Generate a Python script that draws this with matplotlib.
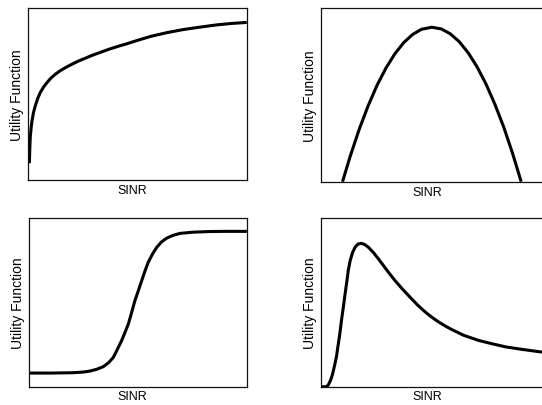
import matplotlib.pyplot as plt

# curve samples (axes run 0..1 on both sides)
log_x = [0.005, 0.007, 0.009, 0.013, 0.017, 0.024, 0.032, 0.043, 0.055, 0.07, 0.086, 0.104, 0.124,
         0.146, 0.17, 0.2, 0.231, 0.262, 0.292, 0.329, 0.368, 0.41, 0.45, 0.5, 0.56, 0.635, 0.711,
         0.788, 0.864, 0.93, 1.0]
log_y = [0.10, 0.19, 0.25, 0.305, 0.346, 0.395, 0.432, 0.475, 0.51, 0.542, 0.568, 0.594, 0.616,
         0.636, 0.654, 0.674, 0.693, 0.709, 0.725, 0.742, 0.76, 0.777, 0.792, 0.812, 0.835, 0.857,
         0.875, 0.889, 0.902, 0.91, 0.916]

para_x = [0.095, 0.13, 0.17, 0.21, 0.25, 0.29, 0.33, 0.37, 0.41, 0.45, 0.497,
          0.54, 0.58, 0.62, 0.66, 0.70, 0.74, 0.78, 0.82, 0.86, 0.899]
para_y = [0.0, 0.148, 0.301, 0.436, 0.554, 0.653, 0.735, 0.800, 0.847, 0.877, 0.889,
          0.879, 0.851, 0.806, 0.743, 0.662, 0.564, 0.448, 0.316, 0.164, 0.0]

sig_x = [0.0, 0.1, 0.2, 0.25, 0.28, 0.31, 0.341, 0.365, 0.387, 0.405, 0.425, 0.44, 0.456, 0.471,
         0.486, 0.502, 0.517, 0.532, 0.547, 0.566, 0.586, 0.608, 0.632, 0.66, 0.693, 0.75, 0.83,
         0.9, 1.0]
sig_y = [0.081, 0.081, 0.083, 0.087, 0.093, 0.103, 0.119, 0.142, 0.174, 0.22, 0.273, 0.32, 0.372,
         0.44, 0.51, 0.57, 0.628, 0.685, 0.737, 0.785, 0.826, 0.858, 0.881, 0.897, 0.909, 0.916,
         0.92, 0.921, 0.921]

peak_x = [0.0, 0.02, 0.03, 0.04, 0.047, 0.053, 0.06, 0.068, 0.075, 0.083, 0.09, 0.098, 0.106, 0.114,
          0.121, 0.129, 0.14, 0.152, 0.165, 0.179, 0.195, 0.212, 0.235, 0.257, 0.28, 0.302, 0.332,
          0.364, 0.403, 0.436, 0.47, 0.494, 0.526, 0.56, 0.585, 0.64, 0.706, 0.77, 0.83, 0.9, 1.0]
peak_y = [0.0, 0.0, 0.008, 0.035, 0.06, 0.09, 0.13, 0.18, 0.245, 0.315, 0.39, 0.465, 0.545, 0.62,
          0.69, 0.745, 0.795, 0.828, 0.846, 0.85, 0.843, 0.826, 0.794, 0.757, 0.717, 0.678, 0.628,
          0.58, 0.525, 0.48, 0.44, 0.415, 0.385, 0.358, 0.34, 0.305, 0.275, 0.254, 0.236, 0.222,
          0.204]

panels = [
    ([0.0522, 0.553, 0.403, 0.425], log_x, log_y),
    ([0.593, 0.550, 0.41, 0.428], para_x, para_y),
    ([0.0535, 0.045, 0.402, 0.4155], sig_x, sig_y),
    ([0.593, 0.045, 0.41, 0.4155], peak_x, peak_y),
]

fig = plt.figure(figsize=(5.42, 4.06), dpi=100)

for rect, xs, ys in panels:
    ax = fig.add_axes(rect)
    ax.plot(xs, ys, color='black', lw=2.2, solid_capstyle='butt', solid_joinstyle='round')
    ax.set_xlim(0, 1)
    ax.set_ylim(0, 1)
    ax.set_xticks([])
    ax.set_yticks([])
    for sp in ax.spines.values():
        sp.set_linewidth(0.9)
        sp.set_color('#111111')
    ax.set_xlabel('SINR', fontsize=9, family=['Liberation Sans Narrow', 'Liberation Sans'])
    ax.set_ylabel('Utility Function', fontsize=10, family=['Liberation Sans'])
    ax.xaxis.set_label_coords(0.475, -0.022)
    ax.yaxis.set_label_coords(-0.02, 0.5)

fig.savefig('out.png', dpi=100)
